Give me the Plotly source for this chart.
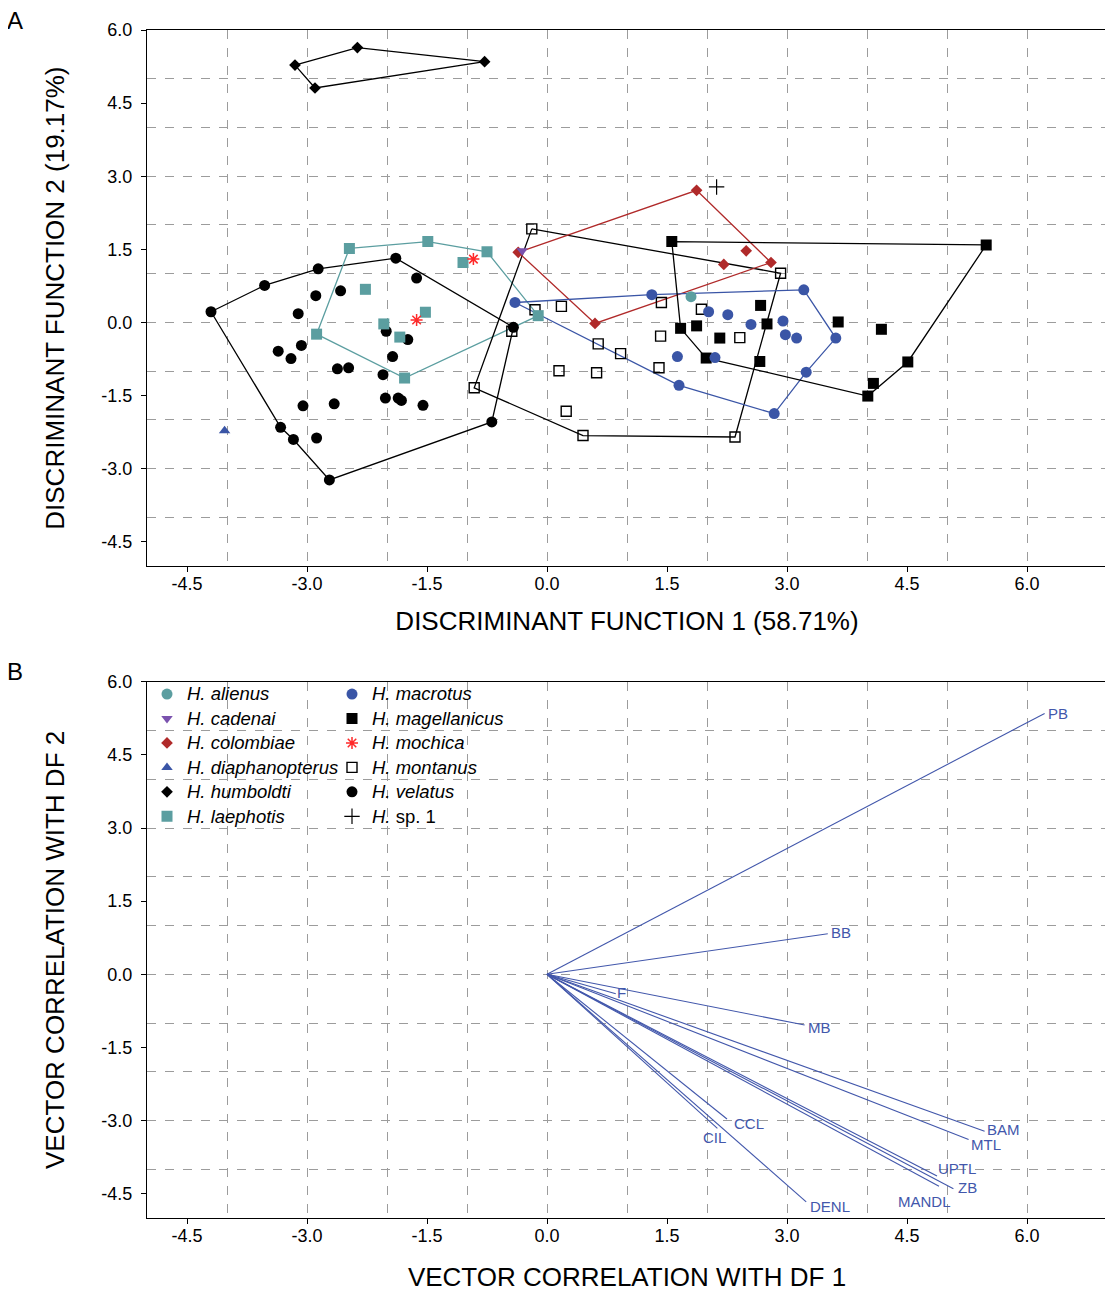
import plotly.graph_objects as go

# ---------------- Panel A data (hull vertices first, in drawing order) ----------------
alienus_x = [1.80]
alienus_y = [0.53]
cadenai_x = [-0.31]
cadenai_y = [1.47]
colombiae_x = [-0.36, 1.87, 2.80, 0.60, 2.49, 2.21]
colombiae_y = [1.44, 2.71, 1.23, -0.02, 1.47, 1.19]
colombiae_hull_n = 4
diaphanopterus_x = [-4.03]
diaphanopterus_y = [-2.22]
humboldti_x = [-3.15, -2.37, -0.78, -2.90]
humboldti_y = [5.28, 5.64, 5.35, 4.81]
humboldti_hull_n = 4
laephotis_x = [-2.47, -1.49, -0.75, -0.11, -1.78, -2.88, -1.05, -2.27, -1.52, -2.04, -1.84]
laephotis_y = [1.52, 1.66, 1.45, 0.14, -1.14, -0.24, 1.23, 0.68, 0.21, -0.03, -0.30]
laephotis_hull_n = 6
macrotus_x = [-0.40, 1.31, 3.21, 3.61, 3.24, 2.84, 1.65, 1.63, 2.02, 2.26, 2.55, 2.10, 2.95, 2.98, 3.12]
macrotus_y = [0.41, 0.57, 0.67, -0.32, -1.02, -1.87, -1.29, -0.70, 0.22, 0.16, -0.04, -0.72, 0.03, -0.25, -0.32]
macrotus_hull_n = 7
magellanicus_x = [1.56, 5.49, 4.51, 4.01, 1.99, 1.67, 4.08, 1.87, 2.16, 2.67, 2.75, 2.66, 3.64, 4.18]
magellanicus_y = [1.66, 1.59, -0.81, -1.51, -0.73, -0.12, -1.25, -0.07, -0.32, 0.35, -0.03, -0.80, 0.01, -0.14]
magellanicus_hull_n = 6
mochica_x = [-1.63, -0.92]
mochica_y = [0.05, 1.30]
montanus_x = [-0.19, 2.92, 2.35, 0.45, -0.91, -0.15, 0.18, 1.43, 1.93, -0.44, 0.64, 0.92, 1.42, 2.41, 0.15, 0.62, 1.40, 0.24]
montanus_y = [1.92, 1.01, -2.35, -2.32, -1.34, 0.26, 0.33, 0.41, 0.27, -0.18, -0.44, -0.64, -0.28, -0.31, -0.99, -1.03, -0.93, -1.82]
montanus_hull_n = 5
velatus_x = [-4.20, -3.53, -2.86, -1.89, -0.42, -0.69, -2.72, -3.17, -3.33,
             -1.63, -2.58, -2.89, -3.11, -3.07, -3.36, -3.20, -2.62, -2.48, -2.01, -1.74,
             -1.93, -2.05, -2.02, -1.86, -1.82, -1.55, -3.05, -2.66, -2.88]
velatus_y = [0.22, 0.76, 1.10, 1.32, -0.10, -2.04, -3.23, -2.40, -2.15,
             0.91, 0.65, 0.55, 0.18, -0.47, -0.59, -0.74, -0.95, -0.93, -0.18, -0.35,
             -0.70, -1.07, -1.55, -1.55, -1.60, -1.70, -1.71, -1.67, -2.37]
velatus_hull_n = 9
sp1_x = [2.12]
sp1_y = [2.78]

# ---------------- Panel B data ----------------
var_names = ["PB", "BB", "F", "MB", "BAM", "MTL", "UPTL", "ZB", "MANDL", "DENL", "CCL", "CIL"]
var_df1 = [6.22, 3.51, 0.86, 3.22, 5.47, 5.27, 4.875, 5.08, 4.90, 3.24, 2.25, 2.13]
var_df2 = [5.35, 0.83, -0.40, -1.04, -3.22, -3.39, -4.14, -4.40, -4.35, -4.67, -2.97, -3.16]

x_ticks = [-4.5, -3.0, -1.5, 0.0, 1.5, 3.0, 4.5, 6.0]
y_ticks = [-4.5, -3.0, -1.5, 0.0, 1.5, 3.0, 4.5, 6.0]

# ---------------- styles ----------------
FONT = "Liberation Sans, Arial, sans-serif"
TEAL = "#5b9ea0"
RED = "#b02a2a"
BLUE = "#3a55a6"
PURPLE = "#7a52ae"
MOCH = "#ff2a2a"
VEC = "#4257ab"


def leg_name(html):
    return '<span style="font-size:18.5px">' + html + '</span>'


fig = go.Figure()

hulls = [
    (velatus_x, velatus_y, velatus_hull_n, "black"),
    (laephotis_x, laephotis_y, laephotis_hull_n, TEAL),
    (montanus_x, montanus_y, montanus_hull_n, "black"),
    (colombiae_x, colombiae_y, colombiae_hull_n, RED),
    (macrotus_x, macrotus_y, macrotus_hull_n, BLUE),
    (magellanicus_x, magellanicus_y, magellanicus_hull_n, "black"),
    (humboldti_x, humboldti_y, humboldti_hull_n, "black"),
]
for hx, hy, n, col in hulls:
    fig.add_trace(go.Scatter(
        x=hx[:n] + [hx[0]], y=hy[:n] + [hy[0]], mode="lines",
        line=dict(color=col, width=1.3), showlegend=False, hoverinfo="skip",
        xaxis="x", yaxis="y"))

# name, x, y, symbol, size, color, line color, line width, legend, rank
species = [
    ("<i>H. montanus</i>", montanus_x, montanus_y, "square-open", 10, "black", "black", 1.4, "legend2", 10),
    ("<i>H. velatus</i>", velatus_x, velatus_y, "circle", 11, "black", "black", 0, "legend2", 11),
    ("<i>H. magellanicus</i>", magellanicus_x, magellanicus_y, "square", 11, "black", "black", 0, "legend2", 8),
    ("<i>H. macrotus</i>", macrotus_x, macrotus_y, "circle", 11, BLUE, BLUE, 0, "legend2", 7),
    ("<i>H. laephotis</i>", laephotis_x, laephotis_y, "square", 11, TEAL, TEAL, 0, "legend", 6),
    ("<i>H. colombiae</i>", colombiae_x, colombiae_y, "diamond", 9, RED, RED, 0, "legend", 3),
    ("<i>H. humboldti</i>", humboldti_x, humboldti_y, "diamond", 9, "black", "black", 0, "legend", 5),
    ("<i>H. alienus</i>", alienus_x, alienus_y, "circle", 11, TEAL, TEAL, 0, "legend", 1),
    ("<i>H. cadenai</i>", cadenai_x, cadenai_y, "triangle-down", 10, PURPLE, PURPLE, 0, "legend", 2),
    ("<i>H. diaphanopterus</i>", diaphanopterus_x, diaphanopterus_y, "triangle-up", 10, BLUE, BLUE, 0, "legend", 4),
    ("<i>H. mochica</i>", mochica_x, mochica_y, "asterisk-open", 10, MOCH, MOCH, 1.5, "legend2", 9),
    ("<i>H.</i> sp. 1", sp1_x, sp1_y, "cross-thin-open", 11, "black", "black", 1.2, "legend2", 12),
]
for name, sx, sy, sym, size, col, lcol, lw, leg, rank in species:
    fig.add_trace(go.Scatter(
        x=sx, y=sy, mode="markers", name=leg_name(name),
        marker=dict(symbol=sym, size=size, color=col, line=dict(color=lcol, width=lw)),
        legend=leg, legendrank=rank, xaxis="x", yaxis="y"))

# vectors panel B
vx, vy = [], []
for a, b in zip(var_df1, var_df2):
    vx += [0, a, None]
    vy += [0, b, None]
fig.add_trace(go.Scatter(x=vx, y=vy, mode="lines", line=dict(color=VEC, width=1.1),
                         showlegend=False, hoverinfo="skip", xaxis="x2", yaxis="y2"))

label_style = {
    "PB": ("left", 1, 0), "BB": ("left", 1, 1), "F": ("left", -1, 1), "MB": ("left", 1, -3),
    "BAM": ("left", 0, 2), "MTL": ("left", 0, -5), "UPTL": ("left", -1, 8), "ZB": ("left", 3, 1),
    "MANDL": ("center", -15, -15), "DENL": ("left", 2, -5), "CCL": ("left", 5, -4),
    "CIL": ("center", -3, -9),
}

# page body adds 8px offset: compensate in margins
ML, MR, MT, MB_ = 139, 14, 18, 83
PW = 1113 - ML - MR
PH = 1293 - MT - MB_
A_BOTTOM = (1210 - 556) / PH   # panel A bottom in paper
B_TOP = (1210 - 672) / PH      # panel B top in paper

annotations = []
for nm, a, b in zip(var_names, var_df1, var_df2):
    xa, xs, ys = label_style[nm]
    annotations.append(dict(x=a, y=b, xref="x2", yref="y2", text=nm, showarrow=False,
                            xanchor=xa, yanchor="middle", xshift=xs, yshift=ys,
                            font=dict(family=FONT, size=15, color=VEC)))
annotations += [
    dict(x=-ML / PW, y=1.0, xref="paper", yref="paper", text="A", showarrow=False,
         xanchor="center", yanchor="middle", xshift=7, yshift=10,
         font=dict(family=FONT, size=24, color="black")),
    dict(x=-ML / PW, y=B_TOP, xref="paper", yref="paper", text="B", showarrow=False,
         xanchor="center", yanchor="middle", xshift=7, yshift=10,
         font=dict(family=FONT, size=24, color="black")),
]

title_font = dict(family=FONT, size=26, color="black")


def axis(rng, vals, title, standoff, lab_standoff):
    return dict(
        range=rng, tickmode="array", tickvals=vals, ticktext=[f"{v:.1f}" for v in vals],
        ticks="outside", ticklen=5, tickcolor="black", tickwidth=1,
        ticklabelstandoff=lab_standoff,
        showgrid=False, zeroline=False, showline=True, linecolor="black", linewidth=1,
        mirror=True, fixedrange=True,
        tickfont=dict(family=FONT, size=18, color="black"),
        minor=dict(tickmode="linear", tick0=0, dtick=1, ticks="inside", ticklen=0,
                   tickcolor="rgba(0,0,0,0)", showgrid=True, gridcolor="#9c9c9c",
                   griddash="dash", gridwidth=1),
        title=dict(text=title, font=title_font, standoff=standoff),
    )


fig.update_layout(
    width=1113, height=1293,
    margin=dict(l=ML, r=MR, t=MT, b=MB_),
    paper_bgcolor="white", plot_bgcolor="white",
    font=dict(family=FONT, color="black"),
    xaxis=dict(axis([-5, 7], x_ticks, "DISCRIMINANT FUNCTION 1 (58.71%)", 19, -4),
               domain=[0, 1], anchor="y"),
    yaxis=dict(axis([-5, 6], y_ticks, "DISCRIMINANT FUNCTION 2 (19.17%)", 29, 5),
               domain=[A_BOTTOM, 1], anchor="x"),
    xaxis2=dict(axis([-5, 7], x_ticks, "VECTOR CORRELATION WITH DF 1", 23, -4),
                domain=[0, 1], anchor="y2"),
    yaxis2=dict(axis([-5, 6], y_ticks, "VECTOR CORRELATION WITH DF 2", 29, 5),
                domain=[0, B_TOP], anchor="x2"),
    legend=dict(x=0.0, y=B_TOP + 5 / PH, xanchor="left", yanchor="top", bgcolor="rgba(0,0,0,0)",
                font=dict(family=FONT, size=16.5, color="black"), tracegroupgap=0),
    legend2=dict(x=185 / PW, y=B_TOP + 5 / PH, xanchor="left", yanchor="top",
                 bgcolor="rgba(0,0,0,0)",
                 font=dict(family=FONT, size=16.5, color="black"), tracegroupgap=0),
    annotations=annotations,
    showlegend=True,
)

fig.write_html("out.html")
